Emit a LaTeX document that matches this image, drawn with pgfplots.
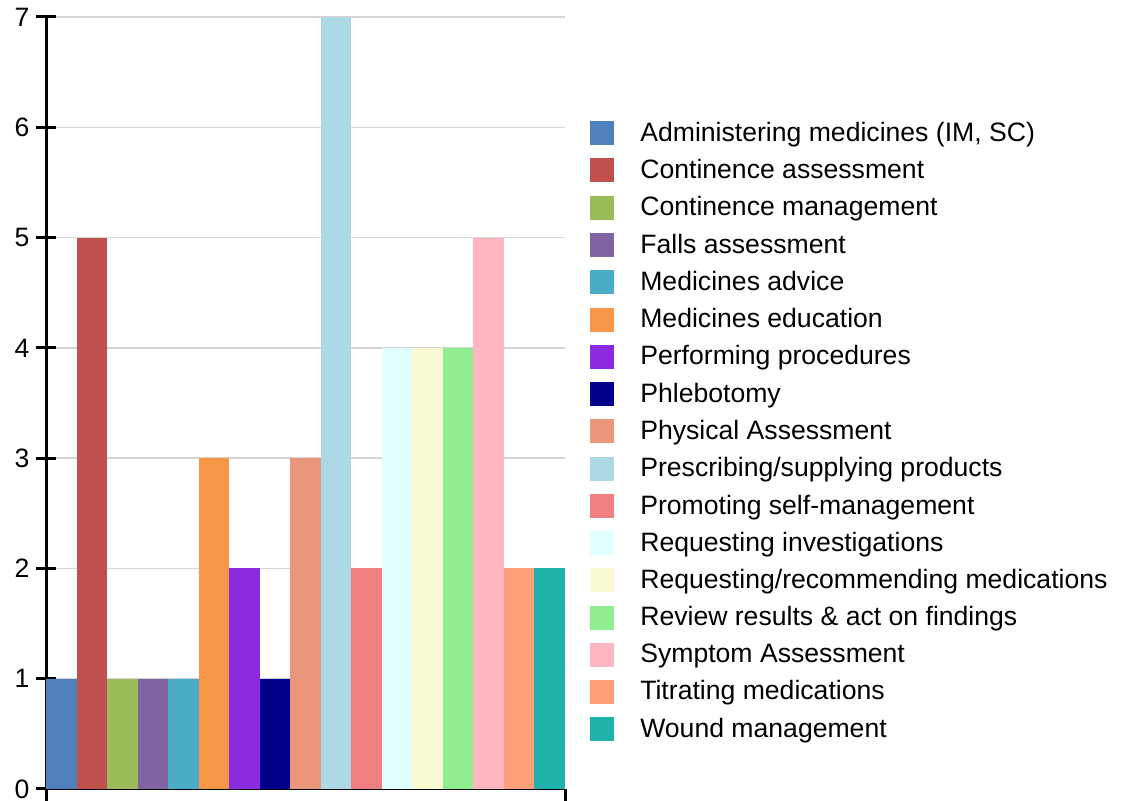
\documentclass[border=0pt]{standalone}
\usepackage{pgfplots}
\pgfplotsset{compat=1.18}
\usepackage{fontspec}
\setmainfont{Liberation Sans}
\definecolor{c1}{HTML}{4F81BD}
\definecolor{c2}{HTML}{C0504D}
\definecolor{c3}{HTML}{9BBB59}
\definecolor{c4}{HTML}{8064A2}
\definecolor{c5}{HTML}{4BACC6}
\definecolor{c6}{HTML}{F79646}
\definecolor{c7}{HTML}{8A2BE2}
\definecolor{c8}{HTML}{00008B}
\definecolor{c9}{HTML}{E9967A}
\definecolor{c10}{HTML}{ADD8E6}
\definecolor{c11}{HTML}{F08080}
\definecolor{c12}{HTML}{E0FFFF}
\definecolor{c13}{HTML}{FAFAD2}
\definecolor{c14}{HTML}{90EE90}
\definecolor{c15}{HTML}{FFB6C1}
\definecolor{c16}{HTML}{FFA07A}
\definecolor{c17}{HTML}{20B2AA}
\definecolor{gridgray}{HTML}{D4D4D4}
\begin{document}
\begin{tikzpicture}[font=\fontsize{13.3pt}{16pt}\selectfont]
\useasboundingbox (0,0) rectangle (563.5pt,400.5pt);
\begin{axis}[
  at={(23pt,6pt)}, anchor=south west,
  scale only axis, width=259.5pt, height=386pt,
  xmin=-0.5, xmax=16.5, ymin=0, ymax=7,
  ytick={0,1,...,7},
  xtick={-0.5,16.5}, xticklabels={},
  axis x line*=bottom, axis y line*=left,
  axis line style={line width=1.5pt,-},
  tick align=center,
  major tick length=9.5pt,
  tick style={line width=1.5pt,black},
  ymajorgrids, grid style={gridgray,line width=0.7pt},
  /pgf/number format/assume math mode=true,
  yticklabel style={font=\fontsize{13.3pt}{16pt}\selectfont},
  ybar, bar width=1, bar shift=0pt,
  every axis plot/.append style={draw=none},
  legend style={at={(axis description cs:1.048,0.4637)}, anchor=west, draw=none, fill=none,
    row sep=3.5pt, font=\fontsize{13.3pt}{16pt}\selectfont, inner sep=0pt,
    /tikz/every even column/.append style={column sep=0pt}},
  legend cell align=left,
  legend image code/.code={\fill[#1] (0pt,-6pt) rectangle (12pt,6pt);},
  legend columns=1,
]
\addplot[fill=c1] coordinates {(0,1)};
\addlegendentry{\hspace{11pt}Administering medicines (IM, SC)}
\addplot[fill=c2] coordinates {(1,5)};
\addlegendentry{\hspace{11pt}Continence assessment}
\addplot[fill=c3] coordinates {(2,1)};
\addlegendentry{\hspace{11pt}Continence management}
\addplot[fill=c4] coordinates {(3,1)};
\addlegendentry{\hspace{11pt}Falls assessment}
\addplot[fill=c5] coordinates {(4,1)};
\addlegendentry{\hspace{11pt}Medicines advice}
\addplot[fill=c6] coordinates {(5,3)};
\addlegendentry{\hspace{11pt}Medicines education}
\addplot[fill=c7] coordinates {(6,2)};
\addlegendentry{\hspace{11pt}Performing procedures}
\addplot[fill=c8] coordinates {(7,1)};
\addlegendentry{\hspace{11pt}Phlebotomy}
\addplot[fill=c9] coordinates {(8,3)};
\addlegendentry{\hspace{11pt}Physical Assessment}
\addplot[fill=c10] coordinates {(9,7)};
\addlegendentry{\hspace{11pt}Prescribing/supplying products}
\addplot[fill=c11] coordinates {(10,2)};
\addlegendentry{\hspace{11pt}Promoting self-management}
\addplot[fill=c12] coordinates {(11,4)};
\addlegendentry{\hspace{11pt}Requesting investigations}
\addplot[fill=c13] coordinates {(12,4)};
\addlegendentry{\hspace{11pt}Requesting/recommending medications}
\addplot[fill=c14] coordinates {(13,4)};
\addlegendentry{\hspace{11pt}Review results \& act on findings}
\addplot[fill=c15] coordinates {(14,5)};
\addlegendentry{\hspace{11pt}Symptom Assessment}
\addplot[fill=c16] coordinates {(15,2)};
\addlegendentry{\hspace{11pt}Titrating medications}
\addplot[fill=c17] coordinates {(16,2)};
\addlegendentry{\hspace{11pt}Wound management}
\end{axis}
\end{tikzpicture}
\end{document}
